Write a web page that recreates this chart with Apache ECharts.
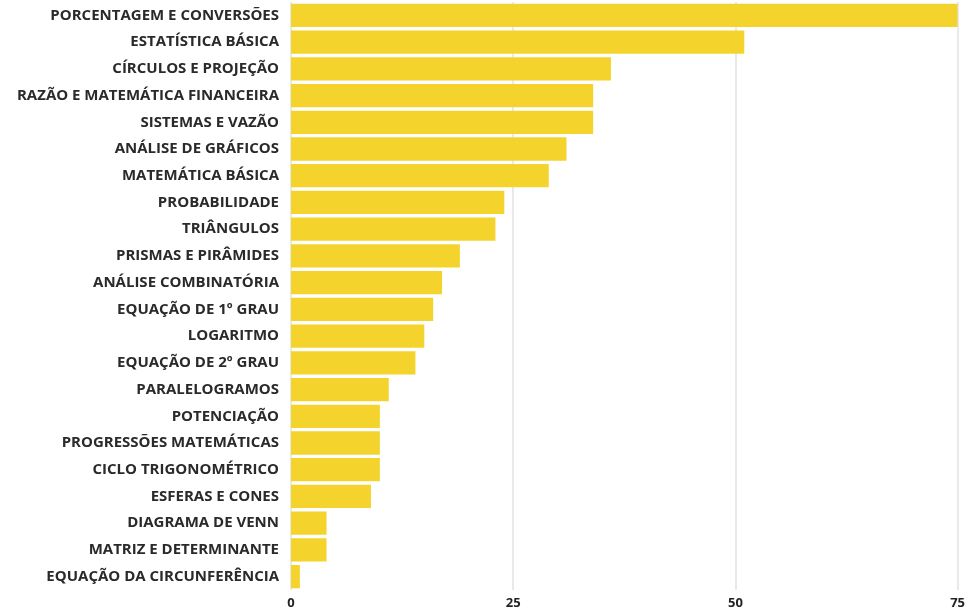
<!DOCTYPE html>
<html>
<head>
<meta charset="utf-8">
<script src="https://cdn.jsdelivr.net/npm/echarts@6/dist/echarts.min.js"></script>
<style>html,body{margin:0;padding:0;background:#fff}#c{width:968px;height:613px}</style>
</head>
<body>
<div id="c"></div>
<script>
const categories = [
  "PORCENTAGEM E CONVERSÕES",
  "ESTATÍSTICA BÁSICA",
  "CÍRCULOS E PROJEÇÃO",
  "RAZÃO E MATEMÁTICA FINANCEIRA",
  "SISTEMAS E VAZÃO",
  "ANÁLISE DE GRÁFICOS",
  "MATEMÁTICA BÁSICA",
  "PROBABILIDADE",
  "TRIÂNGULOS",
  "PRISMAS E PIRÂMIDES",
  "ANÁLISE COMBINATÓRIA",
  "EQUAÇÃO DE 1º GRAU",
  "LOGARITMO",
  "EQUAÇÃO DE 2º GRAU",
  "PARALELOGRAMOS",
  "POTENCIAÇÃO",
  "PROGRESSÕES MATEMÁTICAS",
  "CICLO TRIGONOMÉTRICO",
  "ESFERAS E CONES",
  "DIAGRAMA DE VENN",
  "MATRIZ E DETERMINANTE",
  "EQUAÇÃO DA CIRCUNFERÊNCIA"
];
const values = [75, 51, 36, 34, 34, 31, 29, 24, 23, 19, 17, 16, 15, 14, 11, 10, 10, 10, 9, 4, 4, 1];
const xTicks = [0, 25, 50, 75];

const chart = echarts.init(document.getElementById('c'), null, {renderer: 'canvas'});
chart.setOption({
  animation: false,
  backgroundColor: '#ffffff',
  grid: {left: 291, right: 10, top: 2, bottom: 23, containLabel: false},
  xAxis: {
    type: 'value',
    min: xTicks[0],
    max: xTicks[xTicks.length - 1],
    interval: 25,
    axisLine: {show: false},
    axisTick: {show: false},
    splitLine: {show: true, lineStyle: {color: '#e2e2e2', width: 1.5}},
    axisLabel: {
      color: '#222', fontFamily: 'Open Sans', fontWeight: 'bold', fontSize: 13, margin: 7,
      formatter: v => xTicks.includes(v) ? String(v) : ''
    }
  },
  yAxis: {
    type: 'category',
    data: categories,
    inverse: true,
    axisLine: {show: false},
    axisTick: {show: false},
    splitLine: {show: false},
    axisLabel: {color: '#2a2a2a', fontFamily: 'Open Sans', fontWeight: 'bold', fontSize: 15, margin: 12}
  },
  series: [{
    type: 'bar',
    data: values,
    barCategoryGap: '13%',
    itemStyle: {color: '#F4D42C'}
  }]
});
</script>
</body>
</html>
